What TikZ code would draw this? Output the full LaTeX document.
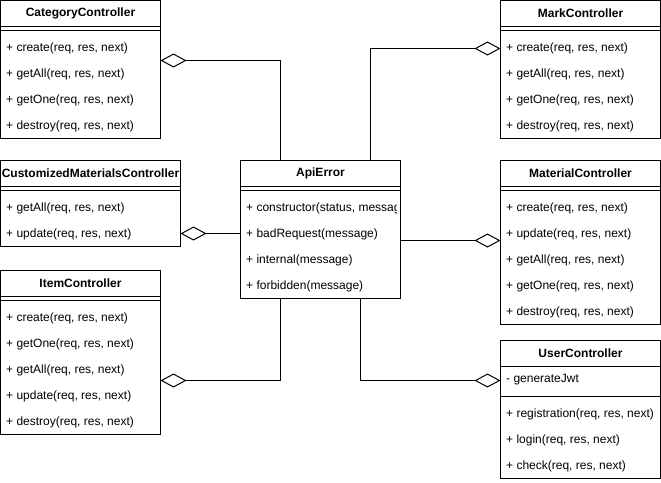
\documentclass[tikz,border=0pt]{standalone}
\usepackage{fontspec}
\setmainfont{Liberation Sans}
\usetikzlibrary{arrows.meta}

\tikzset{
  classbox/.style={draw, line width=1pt, anchor=north west, inner sep=0pt, outer sep=0pt, minimum width=160pt},
  headtxt/.style={font=\bfseries\fontsize{12}{14}\selectfont, inner sep=0pt},
  rowtxt/.style={font=\fontsize{12}{14}\selectfont, anchor=west, inner sep=0pt, yshift=-1pt},
  sepline/.style={line width=1pt},
  aggr/.style={line width=1pt, {Diamond[open,length=26pt,width=14pt]}-}
}

\begin{document}
\begin{tikzpicture}[x=1pt,y=-1pt]
  \useasboundingbox (0,0) rectangle (661,482);

  % CategoryController
  \node[classbox, minimum height=138pt] (cat) at (0.5,0.5) {};
  \node[headtxt] (catname) at (80.5,13.5) {CategoryController};
  \draw[sepline] ([yshift=-26pt]cat.north west) -- ([yshift=-26pt]cat.north east);
  \draw[sepline] ([yshift=-30pt]cat.north west) -- ([yshift=-30pt]cat.north east);
  \node[rowtxt] (catcreate) at (6,47) {+ create(req, res, next)};
  \node[rowtxt] (catgetall) at (6,73) {+ getAll(req, res, next)};
  \node[rowtxt] (catgetone) at (6,99) {+ getOne(req, res, next)};
  \node[rowtxt] (catdestroy) at (6,125) {+ destroy(req, res, next)};

  % MarkController
  \node[classbox, minimum height=138pt] (mark) at (500.5,0.5) {};
  \node[headtxt] (markname) at (580.5,13.5) {MarkController};
  \draw[sepline] ([yshift=-26pt]mark.north west) -- ([yshift=-26pt]mark.north east);
  \draw[sepline] ([yshift=-30pt]mark.north west) -- ([yshift=-30pt]mark.north east);
  \node[rowtxt] (markcreate) at (506,47) {+ create(req, res, next)};
  \node[rowtxt] (markgetall) at (506,73) {+ getAll(req, res, next)};
  \node[rowtxt] (markgetone) at (506,99) {+ getOne(req, res, next)};
  \node[rowtxt] (markdestroy) at (506,125) {+ destroy(req, res, next)};

  % CustomizedMaterialsController
  \node[classbox, minimum width=180pt, minimum height=86pt] (cust) at (0.5,160.5) {};
  \node[headtxt] (custname) at (90.5,173.5) {CustomizedMaterialsController};
  \draw[sepline] ([yshift=-26pt]cust.north west) -- ([yshift=-26pt]cust.north east);
  \draw[sepline] ([yshift=-30pt]cust.north west) -- ([yshift=-30pt]cust.north east);
  \node[rowtxt] (custgetall) at (6,207) {+ getAll(req, res, next)};
  \node[rowtxt] (custupdate) at (6,233) {+ update(req, res, next)};

  % ApiError
  \node[classbox, minimum height=138pt] (apierr) at (240.5,160.5) {};
  \node[headtxt] (apiname) at (320.5,173.5) {ApiError};
  \draw[sepline] ([yshift=-26pt]apierr.north west) -- ([yshift=-26pt]apierr.north east);
  \draw[sepline] ([yshift=-30pt]apierr.north west) -- ([yshift=-30pt]apierr.north east);
  \begin{scope}
    \clip (241,191) rectangle (396,297);
    \node[rowtxt] (apictor) at (246,207) {+ constructor(status, message)};
  \end{scope}
  \node[rowtxt] (apibad) at (246,233) {+ badRequest(message)};
  \node[rowtxt] (apiint) at (246,259) {+ internal(message)};
  \node[rowtxt] (apiforb) at (246,285) {+ forbidden(message)};

  % MaterialController
  \node[classbox, minimum height=164pt] (mat) at (500.5,160.5) {};
  \node[headtxt] (matname) at (580.5,173.5) {MaterialController};
  \draw[sepline] ([yshift=-26pt]mat.north west) -- ([yshift=-26pt]mat.north east);
  \draw[sepline] ([yshift=-30pt]mat.north west) -- ([yshift=-30pt]mat.north east);
  \node[rowtxt] (matcreate) at (506,207) {+ create(req, res, next)};
  \node[rowtxt] (matupdate) at (506,233) {+ update(req, res, next)};
  \node[rowtxt] (matgetall) at (506,259) {+ getAll(req, res, next)};
  \node[rowtxt] (matgetone) at (506,285) {+ getOne(req, res, next)};
  \node[rowtxt] (matdestroy) at (506,311) {+ destroy(req, res, next)};

  % ItemController
  \node[classbox, minimum height=164pt] (item) at (0.5,270.5) {};
  \node[headtxt] (itemname) at (80.5,283.5) {ItemController};
  \draw[sepline] ([yshift=-26pt]item.north west) -- ([yshift=-26pt]item.north east);
  \draw[sepline] ([yshift=-30pt]item.north west) -- ([yshift=-30pt]item.north east);
  \node[rowtxt] (itemcreate) at (6,317) {+ create(req, res, next)};
  \node[rowtxt] (itemgetone) at (6,343) {+ getOne(req, res, next)};
  \node[rowtxt] (itemgetall) at (6,369) {+ getAll(req, res, next)};
  \node[rowtxt] (itemupdate) at (6,395) {+ update(req, res, next)};
  \node[rowtxt] (itemdestroy) at (6,421) {+ destroy(req, res, next)};

  % UserController
  \node[classbox, minimum height=138pt] (user) at (500.5,340.5) {};
  \node[headtxt] (username) at (580.5,353.5) {UserController};
  \draw[sepline] ([yshift=-26pt]user.north west) -- ([yshift=-26pt]user.north east);
  \draw[sepline] ([yshift=-56pt]user.north west) -- ([yshift=-56pt]user.north east);
  \node[rowtxt] (userjwt) at (506,379) {- generateJwt};
  \node[rowtxt] (userreg) at (506,413) {+ registration(req, res, next)};
  \node[rowtxt] (userlogin) at (506,439) {+ login(req, res, next)};
  \node[rowtxt] (usercheck) at (506,465) {+ check(req, res, next)};

  % aggregations
  \draw[aggr] ([yshift=-60pt]cat.north east) -| ([xshift=40pt]apierr.north west);
  \draw[aggr] ([yshift=-48pt]mark.north west) -| ([xshift=130pt]apierr.north west);
  \draw[aggr] ([yshift=-73pt]cust.north east) -- ([yshift=-73pt]apierr.north west);
  \draw[aggr] ([yshift=-80pt]mat.north west) -- ([yshift=-80pt]apierr.north east);
  \draw[aggr] ([yshift=-110pt]item.north east) -| ([xshift=40pt]apierr.south west);
  \draw[aggr] ([yshift=-40pt]user.north west) -| ([xshift=120pt]apierr.south west);
\end{tikzpicture}
\end{document}
